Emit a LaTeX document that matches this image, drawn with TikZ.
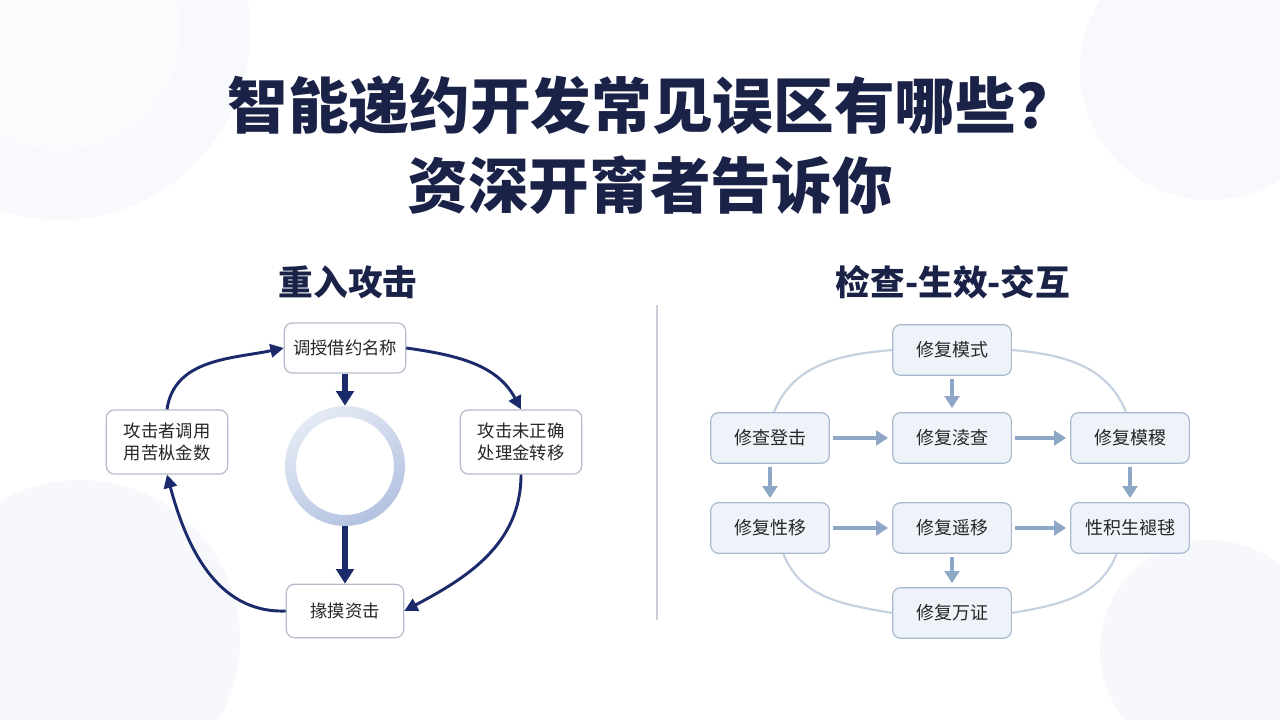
\documentclass[tikz,border=0pt]{standalone}
\usepackage{fontspec}
\setmainfont{Noto Sans CJK SC}
\usetikzlibrary{arrows.meta}
\definecolor{navy}{HTML}{1B2A6B}
\definecolor{titlec}{HTML}{1A2247}
\definecolor{boxborder}{HTML}{B4BCCB}
\definecolor{rboxfill}{HTML}{EEF3FA}
\definecolor{rborder}{HTML}{A9B9CE}
\definecolor{rarrow}{HTML}{8EA7C6}
\definecolor{rarc}{HTML}{C6D1DF}
\definecolor{bgc}{HTML}{EEF2F9}
\definecolor{divc}{HTML}{C8CDD6}
\definecolor{ringA}{HTML}{E4EAF5}
\definecolor{ringB}{HTML}{B3C2E0}
\begin{document}
\begin{tikzpicture}[x=0.75pt,y=0.75pt,
  lbox/.style={draw=boxborder, line width=0.9pt, fill=white, rounded corners=6pt, align=center,
    font=\fontsize{13}{16.5}\selectfont, text=black!85, inner sep=0pt},
  rnode/.style={draw=rborder, line width=0.9pt, fill=rboxfill, rounded corners=6pt,
    minimum width=89pt, minimum height=38pt, font=\fontsize{13.5}{16}\selectfont, text=black!85, inner sep=0pt},
  cyc/.style={draw=navy, line width=2.2pt, -{Triangle[length=10pt,width=10pt]}},
  navarr/.style={draw=navy, line width=4pt, -{Triangle[length=11pt,width=13pt]}},
  rarr/.style={draw=rarrow, line width=3.6pt, -{Triangle[length=9pt,width=11pt]}, shorten <=2pt, shorten >=3pt},
  rarcs/.style={draw=rarc, line width=1.6pt},
  hdr/.style={font=\bfseries\fontsize{26}{30}\selectfont, text=titlec},
  ttl/.style={font=\bfseries\fontsize{45.5}{52}\selectfont, text=titlec},
]
\useasboundingbox (0,0) rectangle (1280,720);
\fill[white] (0,0) rectangle (1280,720);
% faint background circles
\fill[bgc, opacity=0.45] (60,690) circle[radius=190];
\fill[white, opacity=0.4] (60,690) circle[radius=120];
\fill[bgc, opacity=0.45] (1210,650) circle[radius=130];
\fill[bgc, opacity=0.5] (80,80) circle[radius=160];
\fill[bgc, opacity=0.5] (1210,70) circle[radius=110];

% title
\node[ttl] (t1) at (652,615) {智能递约开发常见误区有哪些？};
\node[ttl] (t2) at (650,535) {资深开甯者告诉你};

% headers
\node[hdr] (h1) at (348,438) {重入攻击};
\node[hdr] (h2) at (953,438) {检查-生效-交互};

% divider
\draw[divc, line width=0.8pt] (657,415) -- (657,100);

% left diagram
\node[lbox, minimum width=91pt, minimum height=37.5pt] (T) at (345,372) {调授借约名称};
\node[lbox, minimum width=91pt, minimum height=48pt] (L) at (167,278) {攻击者调用\\用苦枞金数};
\node[lbox, minimum width=91pt, minimum height=48pt] (R) at (521,278) {攻击未正确\\处理金转移};
\node[lbox, minimum width=88pt, minimum height=40pt] (B) at (345,109) {掾摸资击};
\node[circle, minimum size=90pt, inner sep=0pt] (ring) at (345,254) {};
\shade[even odd rule, left color=ringA, right color=ringB, shading angle=30]
  (345,254) circle[radius=60] (345,254) circle[radius=49];

\draw[cyc] (L.north) to[out=82, in=192] (T.west);
\draw[cyc] (T.east) to[out=-8, in=118] (R.north);
\draw[cyc] (R.south) to[out=-90, in=28] (B.east);
\draw[cyc] (B.west) to[out=182, in=-75] (L.south);
\draw[navarr] (T.south) -- (ring.north);
\draw[navarr] (ring.south) -- (B.north);

% right diagram
\node[rnode] (P0) at (952,370) {修复模式};
\node[rnode] (A1) at (770,282) {修查登击};
\node[rnode] (A2) at (952,282) {修复淩查};
\node[rnode] (A3) at (1130,282) {修复模稷};
\node[rnode] (B1) at (770,192) {修复性移};
\node[rnode] (B2) at (952,192) {修复遥移};
\node[rnode] (B3) at (1130,192) {性积生褪毬};
\node[rnode] (P9) at (952,107) {修复万证};

\draw[rarcs] (P0.west) to[out=185, in=68] ([xshift=3pt]A1.north);
\draw[rarcs] (P0.east) to[out=-5, in=112] ([xshift=-3pt]A3.north);
\draw[rarcs] ([xshift=10pt]B1.south) to[out=-68, in=170] (P9.west);
\draw[rarcs] ([xshift=-10pt]B3.south) to[out=-112, in=10] (P9.east);

\draw[rarr] (P0.south) -- (A2.north);
\draw[rarr] (A1.east) -- (A2.west);
\draw[rarr] (A2.east) -- (A3.west);
\draw[rarr] (A1.south) -- (B1.north);
\draw[rarr] (A3.south) -- (B3.north);
\draw[rarr] (B1.east) -- (B2.west);
\draw[rarr] (B2.east) -- (B3.west);
\draw[rarr] (B2.south) -- (P9.north);
\end{tikzpicture}
\end{document}
